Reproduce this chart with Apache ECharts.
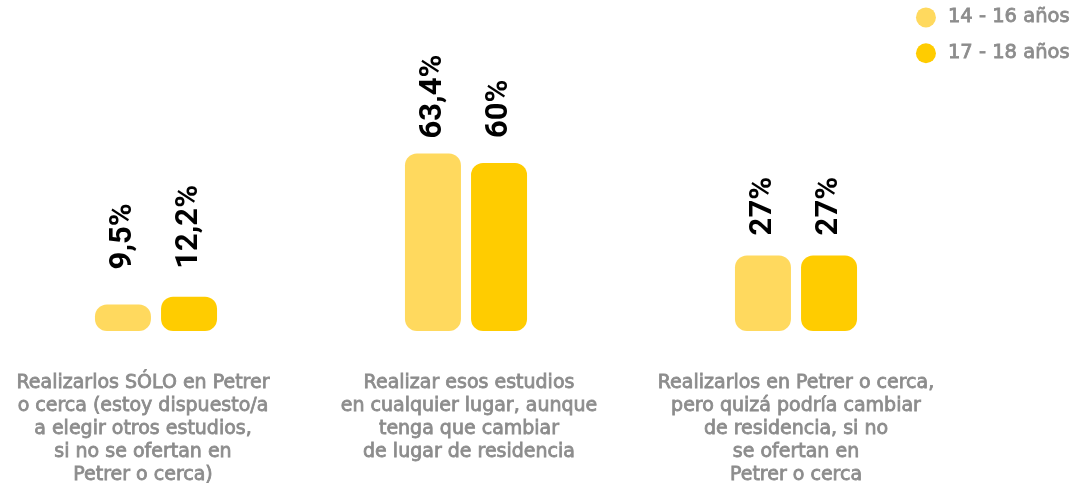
<!DOCTYPE html>
<html>
<head>
<meta charset="utf-8">
<script src="https://cdn.jsdelivr.net/npm/echarts@6/dist/echarts.min.js"></script>
<style>
  html, body { margin: 0; padding: 0; background: #ffffff; }
  #chart { width: 1080px; height: 493px; }
</style>
</head>
<body>
<div id="chart"></div>
<script>
// Categories (answer options), one entry per group of bars
const categories = [
  'Realizarlos SÓLO en Petrer\no cerca (estoy dispuesto/a\na elegir otros estudios,\nsi no se ofertan en\nPetrer o cerca)',
  'Realizar esos estudios\nen cualquier lugar, aunque\ntenga que cambiar\nde lugar de residencia',
  'Realizarlos en Petrer o cerca,\npero quizá podría cambiar\nde residencia, si no\nse ofertan en\nPetrer o cerca'
];

// Percentages per age group
const seriesNames = ['14 - 16 años', '17 - 18 años'];
const values1416 = [9.5, 63.4, 27];
const values1718 = [12.2, 60, 27];

// Gap between the top of each bar and its rotated value label (px)
const labelGap1416 = [35, 15, 20];
const labelGap1718 = [28, 25, 20];

// Horizontal centre of each group's panel and sideways nudge of its caption (px)
const groupCenters = [156, 466, 796];
const captionShift = [-13, 3, 0];
const panelWidth = 300;

const colors = ['#FFD95E', '#FFCC00'];
const labelFont = '"DejaVu Sans", sans-serif';
const valueFont = 'Roboto, "Noto Sans", sans-serif';
const grey = '#8c8c8c';

function fmt(v) {
  return String(v).replace('.', ',') + '%';
}

// One panel (grid + axes) per category so each group can sit at its own centre
const grids = [], xAxes = [], yAxes = [], series = [];
categories.forEach((cat, i) => {
  const sh = captionShift[i];
  grids.push({ left: groupCenters[i] - panelWidth / 2, width: panelWidth, top: 51, bottom: 162 });
  xAxes.push({
    type: 'category',
    gridIndex: i,
    data: [cat],
    axisLine: { show: false },
    axisTick: { show: false },
    axisLabel: {
      interval: 0,
      margin: 41,
      color: grey,
      fontFamily: labelFont,
      fontSize: 19,
      lineHeight: 23,
      textBorderColor: grey,
      textBorderWidth: 0.8,
      align: 'center',
      padding: [0, sh < 0 ? -2 * sh : 0, 0, sh > 0 ? 2 * sh : 0]
    }
  });
  yAxes.push({ type: 'value', gridIndex: i, min: 0, max: 100, show: false });

  [[values1416, labelGap1416], [values1718, labelGap1718]].forEach(([vals, gaps], s) => {
    series.push({
      name: seriesNames[s],
      type: 'bar',
      xAxisIndex: i,
      yAxisIndex: i,
      barWidth: 56,
      barGap: '18%',
      itemStyle: { color: colors[s], borderRadius: 12 },
      label: {
        show: true,
        position: 'top',
        rotate: 90,
        align: 'left',
        verticalAlign: 'middle',
        distance: gaps[i],
        color: '#000000',
        fontFamily: valueFont,
        fontWeight: 'bold',
        fontSize: 31,
        formatter: p => fmt(p.value)
      },
      data: [vals[i]]
    });
  });
});

const chart = echarts.init(document.getElementById('chart'));
chart.setOption({
  animation: false,
  backgroundColor: '#ffffff',
  legend: {
    orient: 'vertical',
    right: 5,
    top: 2,
    icon: 'circle',
    itemWidth: 20,
    itemHeight: 20,
    itemGap: 15,
    textStyle: {
      color: grey, fontFamily: labelFont, fontSize: 19.5,
      textBorderColor: grey, textBorderWidth: 0.8,
      padding: [0, 0, 0, 7]
    },
    data: seriesNames
  },
  grid: grids,
  xAxis: xAxes,
  yAxis: yAxes,
  series: series
});
</script>
</body>
</html>
